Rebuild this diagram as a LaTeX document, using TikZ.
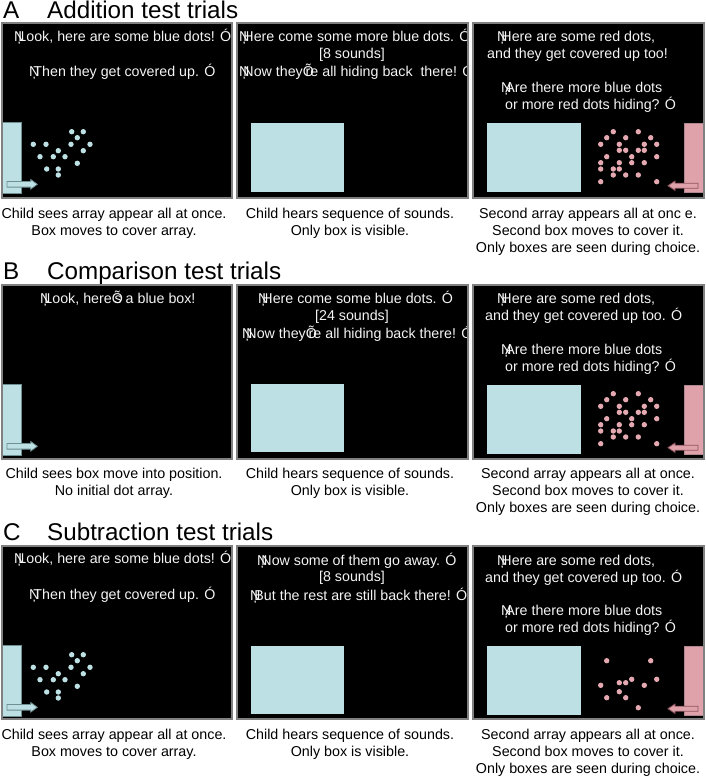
\documentclass[tikz,border=0pt]{standalone}
\usepackage{fontspec}
\setmainfont{Liberation Sans}
\definecolor{bluefill}{HTML}{BCE0E3}
\definecolor{blueedge}{HTML}{6F8F92}
\definecolor{redfill}{HTML}{E0A2AA}
\definecolor{rededge}{HTML}{8E5560}
\definecolor{reddot}{HTML}{E3A8B0}
\definecolor{panelborder}{HTML}{808080}
\definecolor{paneltext}{HTML}{F4F4F4}
\newcommand{\Lq}{\makebox[0.3em][l]{Ņ}}
\newcommand{\Rq}{Ó}
\newcommand{\Ap}{\makebox[0.2em][l]{Õ}}
\tikzset{
  panelbg/.style={fill=black},
  panelframe/.style={draw=panelborder,line width=1.4pt},
  ptext/.style={text=paneltext,font=\fontsize{14.25}{17}\selectfont,anchor=base west,inner sep=0pt},
  ptextc/.style={text=paneltext,font=\fontsize{14.25}{17}\selectfont,anchor=base,inner sep=0pt},
  captext/.style={text=black,font=\fontsize{14.3}{17}\selectfont,anchor=base,inner sep=0pt},
  titletext/.style={text=black,font=\fontsize{24.2}{28}\selectfont,anchor=base west,inner sep=0pt},
  bluebox/.style={fill=bluefill},
  blueboxedge/.style={fill=bluefill,draw=blueedge,line width=0.8pt},
  redbox/.style={fill=redfill,draw=rededge!70,line width=0.8pt},
  bluearrow/.style={fill=bluefill,draw=blueedge,line width=0.8pt},
  redarrow/.style={fill=redfill,draw=rededge,line width=0.8pt},
  bdot/.style={fill=bluefill},
  rdot/.style={fill=reddot},
}
\newcommand{\bluedots}{%
  \foreach \dx/\dy in {69.7/108.7,81.3/108.7,75.3/114.7,31.3/121.3,44/121.3,69/121.3,88/121.3,56.3/127.7,81.3/127.7,38/133.7,51.3/133.7,63/133.7,75.3/140.3,44.7/146,56.3/146,56.3/152}
    {\fill[bdot] (\dx,\dy) circle[radius=2.7];}}
\newcommand{\reddotsmany}{%
  \foreach \dx/\dy in {140.3/108.7,165.3/108.7,133.7/114.7,152.7/114.7,177.7/114.7,127.7/121.3,146.3/121.3,171.3/121.3,183.7/121.3,146.3/127.3,152.7/127.3,165.3/127.3,171.3/127.3,133.7/133.7,158.7/133.7,183.7/133.7,127.7/139.7,146.3/139.7,158.7/139.7,171.3/139.7,127.7/146,140.3/146,146.3/146,140.3/152,152.7/152,165.3/152,127.7/158.7,183.7/158.7}
    {\fill[rdot] (\dx,\dy) circle[radius=2.7];}}
\newcommand{\reddotsfew}{%
  \foreach \dx/\dy in {133.7/114.7,177.7/114.7,158.7/133.3,183.7/133.3,146.3/136.7,152.7/136.7,127.7/139.3,171.3/139.3,146.3/145.7,133.7/151.7,152.7/151.7,165.3/161.7}
    {\fill[rdot] (\dx,\dy) circle[radius=2.7];}}
\newcommand{\leftbox}{%
  \fill[blueboxedge] (-4,99) rectangle (19,170);
  \filldraw[bluearrow] (5,158.5) -- (28.7,158.5) -- (28.7,156.5) -- (35.3,161.3) -- (28.7,166.1) -- (28.7,164.1) -- (5,164.1) -- cycle;}
\newcommand{\rightboxes}{%
  \fill[bluebox] (14,100) rectangle (108,169);
  \filldraw[redbox] (211,100) rectangle (240,169);
  \filldraw[redarrow] (195,162.7) -- (202,158) -- (202,160.2) -- (225,160.2) -- (225,165.2) -- (202,165.2) -- (202,167.4) -- cycle;}
\begin{document}
\begin{tikzpicture}[x=1pt,y=-1pt]
\useasboundingbox (0,0) rectangle (705,776);
\fill[white] (0,0) rectangle (705,776);

% ---------------- Row A ----------------
\node[titletext] (tA) at (3,19) {A};
\node[titletext] (tAt) at (47,19) {Addition test trials};
% panel A1
\begin{scope}[shift={(2,23)}]
  \fill[panelbg] (0,0) rectangle (230,175);
  \begin{scope}
    \clip (0,0) rectangle (230,175);
    \node[ptext] (a1l1) at (12,18.7) {\Lq Look, here are some blue dots! \Rq};
    \node[ptext] (a1l2) at (27,53.5) {\Lq Then they get covered up. \Rq};
    \bluedots
    \leftbox
  \end{scope}
  \draw[panelframe] (0,0) rectangle (230,175);
\end{scope}
% panel A2
\begin{scope}[shift={(237,23)}]
  \fill[panelbg] (0,0) rectangle (231,175);
  \begin{scope}
    \clip (0,0) rectangle (231,175);
    \node[ptext] (a2l1) at (2,18.7) {\Lq Here come some more blue dots. \Rq};
    \node[ptextc] (a2l2) at (115,35.5) {[8 sounds]};
    \node[ptext] (a2l3) at (2,53.5) {\Lq Now they\Ap re all hiding back\ \ there! \Rq};
    \fill[bluebox] (14,100) rectangle (107,169);
  \end{scope}
  \draw[panelframe] (0,0) rectangle (231,175);
\end{scope}
% panel A3
\begin{scope}[shift={(473,23)}]
  \fill[panelbg] (0,0) rectangle (231,175);
  \begin{scope}
    \clip (0,0) rectangle (231,175);
    \node[ptext] (a3l1) at (24,18.7) {\Lq Here are some red dots,};
    \node[ptext] (a3l2) at (14,35.5) {and they get covered up too!};
    \node[ptext] (a3l3) at (28,69.5) {\Lq Are there more blue dots};
    \node[ptext] (a3l4) at (32,86.5) {or more red dots hiding? \Rq};
    \reddotsmany
    \rightboxes
  \end{scope}
  \draw[panelframe] (0,0) rectangle (231,175);
\end{scope}
\node[captext] (ca1a) at (114,218) {Child sees array appear all at once.};
\node[captext] (ca1b) at (114,235) {Box moves to cover array.};
\node[captext] (ca2a) at (350,218) {Child hears sequence of sounds.};
\node[captext] (ca2b) at (350,235) {Only box is visible.};
\node[captext] (ca3a) at (588,218) {Second array appears all at onc e.};
\node[captext] (ca3b) at (588,235) {Second box moves to cover it.};
\node[captext] (ca3c) at (588,252) {Only boxes are seen during choice.};

% ---------------- Row B ----------------
\node[titletext] (tB) at (3,279) {B};
\node[titletext] (tBt) at (47,279) {Comparison test trials};
\begin{scope}[shift={(2,285)}]
  \fill[panelbg] (0,0) rectangle (230,174);
  \begin{scope}
    \clip (0,0) rectangle (230,174);
    \node[ptext] (b1l1) at (38,18) {\Lq Look, here\Ap s a blue box!};
    \leftbox
  \end{scope}
  \draw[panelframe] (0,0) rectangle (230,174);
\end{scope}
\begin{scope}[shift={(237,285)}]
  \fill[panelbg] (0,0) rectangle (231,174);
  \begin{scope}
    \clip (0,0) rectangle (231,174);
    \node[ptext] (b2l1) at (21,18) {\Lq Here come some blue dots. \Rq};
    \node[ptextc] (b2l2) at (115,35) {[24 sounds]};
    \node[ptext] (b2l3) at (5,53) {\Lq Now they\Ap re all hiding back there! \Rq};
    \fill[bluebox] (14,99) rectangle (107,167);
  \end{scope}
  \draw[panelframe] (0,0) rectangle (231,174);
\end{scope}
\begin{scope}[shift={(473,285)}]
  \fill[panelbg] (0,0) rectangle (231,174);
  \begin{scope}
    \clip (0,0) rectangle (231,174);
    \node[ptext] (b3l1) at (24,18) {\Lq Here are some red dots,};
    \node[ptext] (b3l2) at (12,35.5) {and they get covered up too. \Rq};
    \node[ptext] (b3l3) at (28,69.5) {\Lq Are there more blue dots};
    \node[ptext] (b3l4) at (32,86) {or more red dots hiding? \Rq};
    \reddotsmany
    \rightboxes
  \end{scope}
  \draw[panelframe] (0,0) rectangle (231,174);
\end{scope}
\node[captext] (cb1a) at (114,478) {Child sees box move into position.};
\node[captext] (cb1b) at (114,495) {No initial dot array.};
\node[captext] (cb2a) at (350,478) {Child hears sequence of sounds.};
\node[captext] (cb2b) at (350,495) {Only box is visible.};
\node[captext] (cb3a) at (588,478) {Second array appears all at once.};
\node[captext] (cb3b) at (588,495) {Second box moves to cover it.};
\node[captext] (cb3c) at (588,512) {Only boxes are seen during choice.};

% ---------------- Row C ----------------
\node[titletext] (tC) at (3,540) {C};
\node[titletext] (tCt) at (47,540) {Subtraction test trials};
\begin{scope}[shift={(2,546)}]
  \fill[panelbg] (0,0) rectangle (230,173);
  \begin{scope}
    \clip (0,0) rectangle (230,173);
    \node[ptext] (c1l1) at (12,17.5) {\Lq Look, here are some blue dots! \Rq};
    \node[ptext] (c1l2) at (27,53.5) {\Lq Then they get covered up. \Rq};
    \bluedots
    \leftbox
  \end{scope}
  \draw[panelframe] (0,0) rectangle (230,173);
\end{scope}
\begin{scope}[shift={(237,546)}]
  \fill[panelbg] (0,0) rectangle (231,173);
  \begin{scope}
    \clip (0,0) rectangle (231,173);
    \node[ptext] (c2l1) at (20,19) {\Lq Now some of them go away. \Rq};
    \node[ptextc] (c2l2) at (115,35.5) {[8 sounds]};
    \node[ptext] (c2l3) at (13,54) {\Lq But the rest are still back there! \Rq};
    \fill[bluebox] (14,100) rectangle (107,168);
  \end{scope}
  \draw[panelframe] (0,0) rectangle (231,173);
\end{scope}
\begin{scope}[shift={(473,546)}]
  \fill[panelbg] (0,0) rectangle (231,173);
  \begin{scope}
    \clip (0,0) rectangle (231,173);
    \node[ptext] (c3l1) at (24,19) {\Lq Here are some red dots,};
    \node[ptext] (c3l2) at (12,36) {and they get covered up too. \Rq};
    \node[ptext] (c3l3) at (28,69.5) {\Lq Are there more blue dots};
    \node[ptext] (c3l4) at (32,86.5) {or more red dots hiding? \Rq};
    \reddotsfew
    \rightboxes
  \end{scope}
  \draw[panelframe] (0,0) rectangle (231,173);
\end{scope}
\node[captext] (cc1a) at (114,739) {Child sees array appear all at once.};
\node[captext] (cc1b) at (114,756) {Box moves to cover array.};
\node[captext] (cc2a) at (350,739) {Child hears sequence of sounds.};
\node[captext] (cc2b) at (350,756) {Only box is visible.};
\node[captext] (cc3a) at (588,739) {Second array appears all at once.};
\node[captext] (cc3b) at (588,756) {Second box moves to cover it.};
\node[captext] (cc3c) at (588,773) {Only boxes are seen during choice.};
\end{tikzpicture}
\end{document}
